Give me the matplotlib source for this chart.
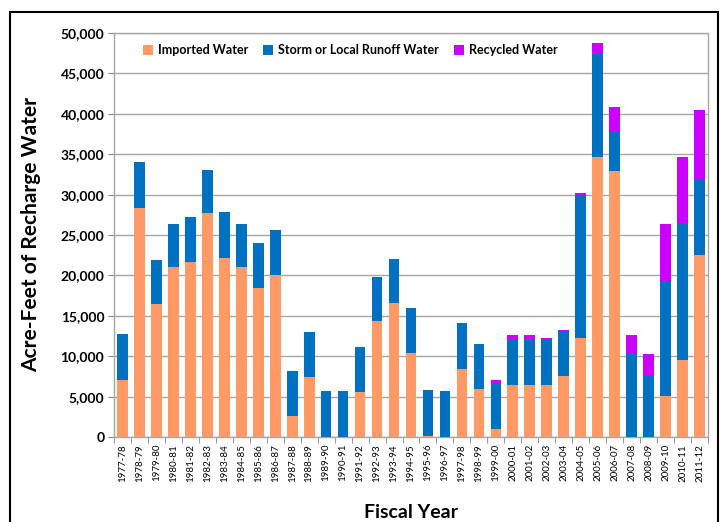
import matplotlib.pyplot as plt
import matplotlib.patches as mpatches
import numpy as np

# Fiscal years and recharge volumes (acre-feet)
years = ['1977-78', '1978-79', '1979-80', '1980-81', '1981-82', '1982-83', '1983-84',
         '1984-85', '1985-86', '1986-87', '1987-88', '1988-89', '1989-90', '1990-91',
         '1991-92', '1992-93', '1993-94', '1994-95', '1995-96', '1996-97', '1997-98',
         '1998-99', '1999-00', '2000-01', '2001-02', '2002-03', '2003-04', '2004-05',
         '2005-06', '2006-07', '2007-08', '2008-09', '2009-10', '2010-11', '2011-12']

imported = [7000, 28400, 16500, 21000, 21700, 27700, 22150, 21000, 18450, 20000,
            2550, 7400, 0, 0, 5600, 14300, 16600, 10400, 100, 0, 8450,
            5900, 1000, 6450, 6450, 6450, 7600, 12300, 34700, 32950, 0, 0,
            5050, 9550, 22550]

storm = [5700, 5650, 5450, 5400, 5550, 5400, 5700, 5400, 5500, 5600,
         5600, 5550, 5700, 5700, 5550, 5500, 5450, 5550, 5750, 5700, 5600,
         5600, 5600, 5700, 5700, 5650, 5550, 17700, 12850, 4800, 10300, 7550,
         14250, 16950, 9300]

recycled = [0, 0, 0, 0, 0, 0, 0, 0, 0, 0,
            0, 0, 0, 0, 0, 0, 0, 0, 0, 0, 0,
            0, 500, 500, 500, 200, 150, 150, 1250, 3050, 2350, 2750,
            7100, 8150, 8650]

c_imp = '#FF9966'
c_storm = '#0070C0'
c_rec = '#CC00FF'

plt.rcParams['font.family'] = ['Lato', 'DejaVu Sans']

fig = plt.figure(figsize=(7.23, 5.22), dpi=100)
ax = fig.add_axes([114/723, 1 - 437/522, (708 - 114)/723, (437 - 33)/522])

x = np.arange(len(years))
imp = np.array(imported)
stm = np.array(storm)
rec = np.array(recycled)
w = 0.63
ax.bar(x, imp, w, color=c_imp, label='Imported Water', zorder=3)
ax.bar(x, stm, w, bottom=imp, color=c_storm, label='Storm or Local Runoff Water', zorder=3)
ax.bar(x, rec, w, bottom=imp + stm, color=c_rec, label='Recycled Water', zorder=3)

ax.set_xlim(-0.5, len(years) - 0.5)
ax.set_ylim(0, 50000)
ax.set_yticks(np.arange(0, 50001, 5000))
ax.set_yticklabels([f'{v:,}' for v in range(0, 50001, 5000)], fontsize=10, fontweight='bold')
ax.set_xticks(x)
ax.set_xticklabels(years, rotation=90, fontsize=7)
ax.set_xticks(np.arange(-0.5, len(years), 1), minor=True)
ax.tick_params(axis='x', which='major', length=0, pad=5)
ax.tick_params(axis='x', which='minor', length=4, color='#888888')
ax.tick_params(axis='y', length=4, color='#888888', pad=3)

ax.grid(axis='y', color='#a6a6a6', linewidth=1, zorder=0)
for s in ax.spines.values():
    s.set_color('#a6a6a6')
    s.set_linewidth(1)

ax.set_ylabel('Acre-Feet of Recharge Water', fontsize=15, fontweight='bold', labelpad=14)
ax.set_xlabel('Fiscal Year', fontsize=14, fontweight='bold', labelpad=16)

ax.legend(loc='upper left', bbox_to_anchor=(0.03, 1.0), ncol=3, frameon=False,
          prop={'size': 9, 'weight': 'bold'}, handlelength=0.8, handleheight=0.8,
          handletextpad=0.4, columnspacing=1.2)

# outer frame
fig.patches.append(mpatches.Rectangle((10/723, -0.05), (718 - 10)/723, 1.05 - 12/522,
                                      transform=fig.transFigure, fill=False,
                                      edgecolor='black', linewidth=1.5))

fig.savefig('out.png', dpi=100)
